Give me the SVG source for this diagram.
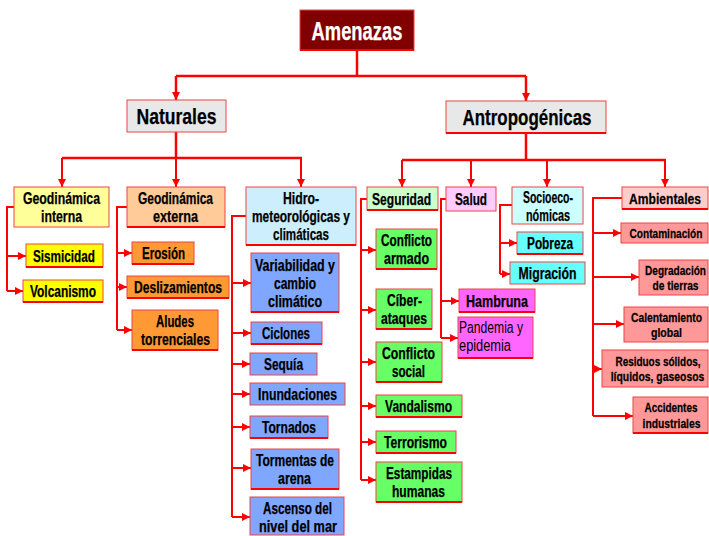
<svg xmlns="http://www.w3.org/2000/svg" width="709" height="536" viewBox="0 0 709 536">
<style>
.b{stroke:#ee4444;stroke-width:1}
.u{stroke:#ff0000;stroke-width:2.2;fill:none}
text{font-family:"Liberation Sans",Arial,sans-serif;font-weight:bold;font-size:16px;fill:#000;stroke:#000;stroke-width:0.25;text-anchor:middle}
.s{font-size:13px}
.c{stroke:#ff0000;stroke-width:2.5;fill:none}
.k{stroke:#ff0000;stroke-width:2;fill:none}
</style>
<defs>
<marker id="a" viewBox="0 0 10 10" refX="10" refY="5" markerWidth="8" markerHeight="8" markerUnits="userSpaceOnUse" orient="auto"><path d="M0,0L10,5L0,10z" fill="#ff0000"/></marker>
</defs>
<rect width="709" height="536" fill="#ffffff"/>
<g id="connectors">
<path class="c" d="M357,50V76M176,76H526M176,132V158M62,158H302M526,133V160M402,160H666"/>
<path class="c" marker-end="url(#a)" d="M176,76V100"/>
<path class="c" marker-end="url(#a)" d="M526,76V101"/>
<path class="k" marker-end="url(#a)" d="M62,158V187"/>
<path class="k" marker-end="url(#a)" d="M176,158V187"/>
<path class="k" marker-end="url(#a)" d="M301,158V187"/>
<path class="k" marker-end="url(#a)" d="M402,160V187"/>
<path class="k" marker-end="url(#a)" d="M471,160V187"/>
<path class="k" marker-end="url(#a)" d="M547,160V187"/>
<path class="k" marker-end="url(#a)" d="M665,160V187"/>
<path class="k" d="M14,207H7V291M127,207H117V330M246,216H232V517M367,199H361V480M446,199H441V338M512,205H500V274M622,198H593V416"/>
<path class="k" marker-end="url(#a)" d="M7,256H26"/>
<path class="k" marker-end="url(#a)" d="M7,291H23"/>
<path class="k" marker-end="url(#a)" d="M117,253H132"/>
<path class="k" marker-end="url(#a)" d="M117,287H127"/>
<path class="k" marker-end="url(#a)" d="M117,330H132"/>
<path class="k" marker-end="url(#a)" d="M232,283H251"/>
<path class="k" marker-end="url(#a)" d="M232,333H251"/>
<path class="k" marker-end="url(#a)" d="M232,364H250"/>
<path class="k" marker-end="url(#a)" d="M232,394H250"/>
<path class="k" marker-end="url(#a)" d="M232,427H250"/>
<path class="k" marker-end="url(#a)" d="M232,468H251"/>
<path class="k" marker-end="url(#a)" d="M232,517H250"/>
<path class="k" marker-end="url(#a)" d="M361,250H376"/>
<path class="k" marker-end="url(#a)" d="M361,310H376"/>
<path class="k" marker-end="url(#a)" d="M361,362H376"/>
<path class="k" marker-end="url(#a)" d="M361,406H376"/>
<path class="k" marker-end="url(#a)" d="M361,442H376"/>
<path class="k" marker-end="url(#a)" d="M361,480H376"/>
<path class="k" marker-end="url(#a)" d="M441,301H459"/>
<path class="k" marker-end="url(#a)" d="M441,338H458"/>
<path class="k" marker-end="url(#a)" d="M500,243H517"/>
<path class="k" marker-end="url(#a)" d="M500,274H510"/>
<path class="k" marker-end="url(#a)" d="M593,233H621"/>
<path class="k" marker-end="url(#a)" d="M593,277H639"/>
<path class="k" marker-end="url(#a)" d="M593,324H624"/>
<path class="k" marker-end="url(#a)" d="M593,369H602"/>
<path class="k" marker-end="url(#a)" d="M593,416H633"/>
</g>
<g id="amenazas"><rect class="b" x="300" y="10" width="114" height="40" fill="#800000"/><path class="u" d="M300,50H414"/><text x="357" y="39.5" style="font-size:25px;fill:#fff;stroke:#fff" textLength="91" lengthAdjust="spacingAndGlyphs">Amenazas</text></g>
<g id="naturales"><rect class="b" x="127" y="100" width="99" height="32" fill="#e8e8e8"/><text x="176.5" y="124" style="font-size:22.5px" textLength="80" lengthAdjust="spacingAndGlyphs">Naturales</text></g>
<g id="antropogenicas"><rect class="b" x="446" y="101" width="160" height="32" fill="#e8e8e8"/><path class="u" d="M446,133H606"/><text x="527" y="125" style="font-size:22.5px" textLength="129" lengthAdjust="spacingAndGlyphs">Antropogénicas</text></g>
<g id="geo-interna"><rect class="b" x="14" y="187" width="95" height="40" fill="#ffff99"/><text x="61.5" y="204" textLength="77" lengthAdjust="spacingAndGlyphs">Geodinámica</text><text x="61.5" y="222" textLength="41" lengthAdjust="spacingAndGlyphs">interna</text></g>
<g id="geo-externa"><rect class="b" x="127" y="187" width="98" height="40" fill="#ffcc99"/><path class="u" d="M127,227H225"/><text x="175.5" y="204" textLength="75" lengthAdjust="spacingAndGlyphs">Geodinámica</text><text x="175.5" y="222" textLength="45" lengthAdjust="spacingAndGlyphs">externa</text></g>
<g id="hidro"><rect class="b" x="246" y="187" width="110" height="58" fill="#cdeefc"/><path class="u" d="M246,245H356"/><text x="301" y="204" textLength="36" lengthAdjust="spacingAndGlyphs">Hidro-</text><text x="301" y="222" textLength="98" lengthAdjust="spacingAndGlyphs">meteorológicas y</text><text x="301" y="240" textLength="56" lengthAdjust="spacingAndGlyphs">climáticas</text></g>
<g id="seguridad"><rect class="b" x="367" y="187" width="71" height="23" fill="#ccffcc"/><path class="u" d="M367,210H438"/><text x="401.5" y="204.5" textLength="59" lengthAdjust="spacingAndGlyphs">Seguridad</text></g>
<g id="salud"><rect class="b" x="446" y="187" width="50" height="24" fill="#ffccff"/><text x="471" y="205" textLength="32" lengthAdjust="spacingAndGlyphs">Salud</text></g>
<g id="socioeconomicas"><rect class="b" x="512" y="187" width="71" height="37" fill="#ccffff"/><text x="548" y="202.5" textLength="50" lengthAdjust="spacingAndGlyphs">Socioeco-</text><text x="548" y="220.5" textLength="44" lengthAdjust="spacingAndGlyphs">nómicas</text></g>
<g id="ambientales"><rect class="b" x="622" y="187" width="86" height="22" fill="#ffcccc"/><path class="u" d="M622,209H708"/><text transform="translate(665 204) scale(0.807 1)" style="font-size:15px">Ambientales</text></g>
<g id="sismicidad"><rect class="b" x="26" y="244" width="77" height="23" fill="#ffff00"/><path class="u" d="M26,267H103"/><text x="64" y="261.5" textLength="62" lengthAdjust="spacingAndGlyphs">Sismicidad</text></g>
<g id="volcanismo"><rect class="b" x="23" y="280" width="80" height="22" fill="#ffff00"/><path class="u" d="M23,302H103"/><text x="63" y="297" textLength="66" lengthAdjust="spacingAndGlyphs">Volcanismo</text></g>
<g id="erosion"><rect class="b" x="132" y="242" width="62" height="22" fill="#ff9933"/><path class="u" d="M132,264H194"/><text x="163.5" y="259" textLength="43" lengthAdjust="spacingAndGlyphs">Erosión</text></g>
<g id="deslizamientos"><rect class="b" x="127" y="276" width="102" height="22" fill="#ff9933"/><path class="u" d="M127,298H229"/><text x="178" y="293" textLength="88" lengthAdjust="spacingAndGlyphs">Deslizamientos</text></g>
<g id="aludes"><rect class="b" x="132" y="310" width="86" height="40" fill="#ff9933"/><path class="u" d="M132,350H218"/><text x="175" y="327" textLength="38" lengthAdjust="spacingAndGlyphs">Aludes</text><text x="175.5" y="345" textLength="69" lengthAdjust="spacingAndGlyphs">torrenciales</text></g>
<g id="variabilidad"><rect class="b" x="251" y="253" width="88" height="59" fill="#7fa7ff"/><path class="u" d="M251,312H339"/><text x="295" y="271" textLength="80" lengthAdjust="spacingAndGlyphs">Variabilidad y</text><text x="295" y="289" textLength="42" lengthAdjust="spacingAndGlyphs">cambio</text><text x="295" y="307" textLength="54" lengthAdjust="spacingAndGlyphs">climático</text></g>
<g id="ciclones"><rect class="b" x="251" y="322" width="71" height="22" fill="#7fa7ff"/><path class="u" d="M251,344H322"/><text x="286" y="339" textLength="48" lengthAdjust="spacingAndGlyphs">Ciclones</text></g>
<g id="sequia"><rect class="b" x="250" y="353" width="67" height="22" fill="#7fa7ff"/><text x="283.5" y="370" textLength="39" lengthAdjust="spacingAndGlyphs">Sequía</text></g>
<g id="inundaciones"><rect class="b" x="250" y="383" width="95" height="22" fill="#7fa7ff"/><text x="297.5" y="400" textLength="79" lengthAdjust="spacingAndGlyphs">Inundaciones</text></g>
<g id="tornados"><rect class="b" x="250" y="416" width="78" height="22" fill="#7fa7ff"/><path class="u" d="M250,438H328"/><text x="289" y="433" textLength="54" lengthAdjust="spacingAndGlyphs">Tornados</text></g>
<g id="tormentas"><rect class="b" x="251" y="449" width="88" height="40" fill="#7fa7ff"/><path class="u" d="M251,489H339"/><text x="295" y="466" textLength="78" lengthAdjust="spacingAndGlyphs">Tormentas de</text><text x="294.5" y="484" textLength="33" lengthAdjust="spacingAndGlyphs">arena</text></g>
<g id="ascenso"><rect class="b" x="250" y="497" width="94" height="38" fill="#7fa7ff"/><text x="297.5" y="514" textLength="69" lengthAdjust="spacingAndGlyphs">Ascenso del</text><text x="298" y="531.5" textLength="78" lengthAdjust="spacingAndGlyphs">nivel del mar</text></g>
<g id="conflicto-armado"><rect class="b" x="376" y="229" width="61" height="40" fill="#66ff66"/><path class="u" d="M376,269H437"/><text x="406.5" y="246" textLength="51" lengthAdjust="spacingAndGlyphs">Conflicto</text><text x="406.5" y="264" textLength="45" lengthAdjust="spacingAndGlyphs">armado</text></g>
<g id="ciberataques"><rect class="b" x="376" y="289" width="56" height="40" fill="#66ff66"/><path class="u" d="M376,329H432"/><text x="404.5" y="306" textLength="35" lengthAdjust="spacingAndGlyphs">Cíber-</text><text x="404" y="324" textLength="46" lengthAdjust="spacingAndGlyphs">ataques</text></g>
<g id="conflicto-social"><rect class="b" x="376" y="342" width="66" height="40" fill="#66ff66"/><path class="u" d="M376,382H442"/><text x="408.5" y="359" textLength="53" lengthAdjust="spacingAndGlyphs">Conflicto</text><text x="408.5" y="377" textLength="33" lengthAdjust="spacingAndGlyphs">social</text></g>
<g id="vandalismo"><rect class="b" x="376" y="395" width="86" height="22" fill="#66ff66"/><path class="u" d="M376,417H462"/><text x="418.5" y="412" textLength="67" lengthAdjust="spacingAndGlyphs">Vandalismo</text></g>
<g id="terrorismo"><rect class="b" x="376" y="431" width="80" height="22" fill="#66ff66"/><path class="u" d="M376,453H456"/><text x="415.5" y="448" textLength="63" lengthAdjust="spacingAndGlyphs">Terrorismo</text></g>
<g id="estampidas"><rect class="b" x="376" y="462" width="86" height="40" fill="#66ff66"/><path class="u" d="M376,502H462"/><text x="419" y="479" textLength="66" lengthAdjust="spacingAndGlyphs">Estampidas</text><text x="418.5" y="497" textLength="53" lengthAdjust="spacingAndGlyphs">humanas</text></g>
<g id="hambruna"><rect class="b" x="459" y="289" width="76" height="23" fill="#ff66ff"/><path class="u" d="M459,312H535"/><text x="497" y="306.5" textLength="62" lengthAdjust="spacingAndGlyphs">Hambruna</text></g>
<g id="pandemia"><rect class="b" x="458" y="317" width="75" height="41" fill="#ff66ff"/><path class="u" d="M458,358H533"/><text x="459" y="333" style="font-weight:normal;stroke:none;text-anchor:start" textLength="64" lengthAdjust="spacingAndGlyphs">Pandemia y</text><text x="459" y="351" style="font-weight:normal;stroke:none;text-anchor:start" textLength="52" lengthAdjust="spacingAndGlyphs">epidemia</text></g>
<g id="pobreza"><rect class="b" x="517" y="232" width="66" height="22" fill="#66ffff"/><path class="u" d="M517,254H583"/><text x="550" y="249" textLength="46" lengthAdjust="spacingAndGlyphs">Pobreza</text></g>
<g id="migracion"><rect class="b" x="510" y="262" width="75" height="22" fill="#66ffff"/><text x="547.5" y="279" textLength="58" lengthAdjust="spacingAndGlyphs">Migración</text></g>
<g id="contaminacion"><rect class="b" x="621" y="223" width="87" height="20" fill="#ff9999"/><text class="s" transform="translate(666 237.5) scale(0.777 1)">Contaminación</text></g>
<g id="degradacion"><rect class="b" x="639" y="260" width="69" height="35" fill="#ff9999"/><text class="s" transform="translate(675.5 274.5) scale(0.775 1)">Degradación</text><text class="s" transform="translate(675.5 290) scale(0.786 1)">de tierras</text></g>
<g id="calentamiento"><rect class="b" x="624" y="307" width="84" height="35" fill="#ff9999"/><text class="s" transform="translate(666.5 321.5) scale(0.793 1)">Calentamiento</text><text class="s" transform="translate(666.5 337) scale(0.81 1)">global</text></g>
<g id="residuos"><rect class="b" x="602" y="350" width="106" height="37" fill="#ff9999"/><text class="s" transform="translate(658 365.5) scale(0.766 1)">Residuos sólidos,</text><text class="s" transform="translate(657.5 381) scale(0.8 1)">líquidos, gaseosos</text></g>
<g id="accidentes"><rect class="b" x="633" y="397" width="75" height="36" fill="#ff9999"/><path class="u" d="M633,433H708"/><text class="s" transform="translate(671 412) scale(0.764 1)">Accidentes</text><text class="s" transform="translate(671.5 427.5) scale(0.795 1)">industriales</text></g>
</svg>
